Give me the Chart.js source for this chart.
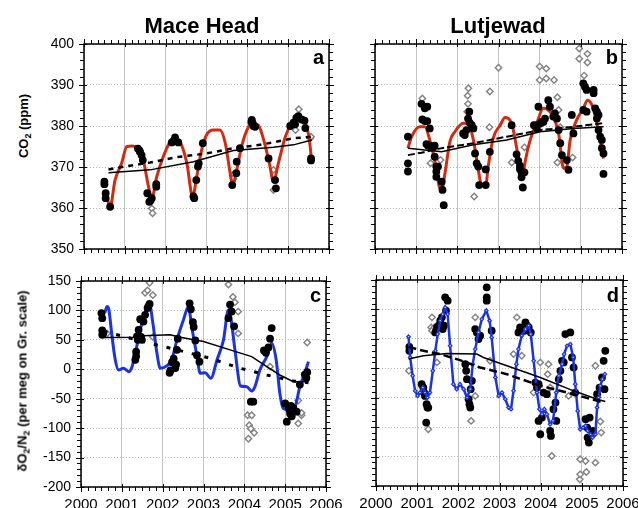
<!DOCTYPE html>
<html>
<head>
<meta charset="utf-8">
<script src="https://cdn.jsdelivr.net/npm/chart.js@4.4.1/dist/chart.umd.min.js"></script>
<style>
  body { margin: 0; background: #fff; font-family: Arial, "Liberation Sans", sans-serif; }
  #wrap { position: relative; width: 638px; height: 508px; overflow: hidden; }
  canvas { position: absolute; }
  .title { position: absolute; font-weight: bold; font-size: 22px; line-height: 26px; text-align: center; width: 200px; }
  .letter { position: absolute; font-weight: bold; font-size: 20px; line-height: 24px; text-align: right; width: 40px; }
  .ytitle { position: absolute; font-weight: bold; font-size: 13px; white-space: nowrap; transform: translate(-50%, -50%) rotate(-90deg); }
  .ytitle sub { font-size: 9px; vertical-align: -3px; line-height: 0; }
</style>
</head>
<body>
<div id="wrap">
  <canvas id="pa" width="301" height="221" style="left:34px;top:34px"></canvas>
  <canvas id="pb" width="279" height="221" style="left:349px;top:34px"></canvas>
  <canvas id="pc" width="315" height="237" style="left:31px;top:271px"></canvas>
  <canvas id="pd" width="293" height="238" style="left:350px;top:270px"></canvas>

  <div class="title" style="left:102px;top:13px">Mace Head</div>
  <div class="title" style="left:398px;top:13px">Lutjewad</div>
  <div class="letter" style="left:284px;top:45px">a</div>
  <div class="letter" style="left:578px;top:45px">b</div>
  <div class="letter" style="left:281px;top:283px">c</div>
  <div class="letter" style="left:579px;top:283px">d</div>
  <div class="ytitle" style="left:23px;top:126px">CO<sub>2</sub> (ppm)</div>
  <div class="ytitle" style="left:22px;top:381px">δO<sub>2</sub>/N<sub>2</sub> (per meg on Gr. scale)</div>
</div>
<script>
// tick labels
const yearTicks = [2000, 2001, 2002, 2003, 2004, 2005, 2006];
const co2Ticks = [350, 360, 370, 380, 390, 400];
const o2Ticks = [-200, -150, -100, -50, 0, 50, 100, 150];

// ---- Mace Head CO2 (panel a) ----  [decimal year, ppm]
const maceCo2Obs = [
  [2000.50,366.4],[2000.50,365.8],[2000.53,363.6],[2000.53,362.4],[2000.64,360.3],
  [2001.32,374.5],[2001.36,374.0],[2001.37,373.7],[2001.41,372.9],[2001.44,371.7],
  [2001.55,363.6],[2001.60,361.5],[2001.63,361.8],[2001.66,362.4],[2001.77,365.2],[2001.77,365.8],
  [2002.15,376.0],[2002.20,376.4],[2002.23,377.2],[2002.31,376.0],
  [2002.68,362.8],[2002.70,362.4],[2002.75,366.8],[2002.79,370.1],[2002.81,370.9],[2002.91,375.8],
  [2003.63,365.6],[2003.73,368.5],[2003.74,371.3],[2003.82,374.6],
  [2004.10,381.0],[2004.11,381.5],[2004.13,380.7],[2004.15,380.0],[2004.19,379.8],
  [2004.52,372.1],[2004.68,366.8],[2004.70,364.8],
  [2005.05,380.0],[2005.13,380.8],[2005.17,380.4],[2005.20,382.0],[2005.25,382.4],[2005.33,381.6],
  [2005.40,381.3],[2005.42,379.5],[2005.56,372.1],[2005.56,371.6]
];
const maceCo2Flag = [
  [2001.66,359.9],[2001.68,358.7],[2003.64,368.0],[2003.66,367.2],[2004.64,369.3],[2004.64,364.4],
  [2005.18,379.0],[2005.26,384.1],[2005.54,377.0],[2005.56,377.4]
];
const maceCo2Fit = [
  [2000.56,362.8],[2000.64,360.3],[2000.76,366.8],[2000.92,370.9],[2001.05,375.0],[2001.17,375.1],
  [2001.29,374.8],[2001.45,371.7],[2001.58,365.2],[2001.66,362.4],[2001.78,367.6],[2001.94,372.5],
  [2002.11,376.2],[2002.23,377.0],[2002.35,376.2],[2002.52,370.9],[2002.66,362.8],[2002.76,367.6],
  [2002.88,374.1],[2003.00,377.8],[2003.17,379.0],[2003.33,379.0],[2003.46,375.8],[2003.58,368.5],
  [2003.64,365.6],[2003.74,369.3],[2003.86,375.0],[2003.99,379.0],[2004.11,380.7],[2004.27,380.2],
  [2004.40,376.6],[2004.54,370.9],[2004.64,366.4],[2004.76,370.9],[2004.93,377.4],[2005.09,380.7],
  [2005.25,381.9],[2005.42,380.7],[2005.52,376.6],[2005.58,370.9]
];
const maceCo2Trend = [
  [2000.60,368.6],[2001.62,369.3],[2002.68,371.3],[2003.66,374.0],[2004.64,374.8],[2005.13,375.4],[2005.58,376.6]
];
const maceCo2Trend2 = [
  [2000.60,369.4],[2001.05,370.2],[2001.62,371.1],[2002.27,372.4],[2003.00,373.3],[2003.66,374.6],
  [2004.31,375.4],[2005.13,377.0],[2005.58,377.4]
];

// ---- Lutjewad CO2 (panel b) ----
const lutCo2Obs = [
  [2000.80,377.4],[2000.80,370.9],[2000.80,368.9],
  [2001.13,385.4],[2001.21,384.3],[2001.27,384.7],[2001.15,381.6],[2001.21,381.2],[2001.27,381.2],[2001.33,379.4],
  [2001.25,375.6],[2001.29,375.2],[2001.33,375.2],[2001.37,374.8],[2001.41,374.8],[2001.45,375.2],
  [2001.45,372.5],[2001.49,370.1],[2001.49,368.9],[2001.49,367.6],[2001.53,370.1],
  [2001.62,366.4],[2001.64,364.4],[2001.67,360.7],
  [2002.14,378.2],[2002.18,377.8],[2002.22,379.0],[2002.26,381.8],[2002.29,383.5],[2002.30,380.8],[2002.35,380.2],[2002.39,379.4],
  [2002.43,373.3],[2002.47,370.9],[2002.51,370.1],[2002.53,365.6],[2002.69,365.6],[2002.69,369.4],[2002.79,373.7],
  [2003.32,380.2],
  [2003.44,373.1],[2003.48,371.5],[2003.52,370.3],[2003.52,369.5],[2003.56,368.7],[2003.56,367.5],[2003.59,365.0],[2003.63,368.7],
  [2003.86,380.2],[2003.93,380.2],[2003.93,379.4],[2003.97,384.7],[2004.01,380.6],[2004.05,381.0],[2004.09,381.0],[2004.13,381.8],
  [2004.21,386.3],[2004.25,384.7],[2004.33,382.3],[2004.37,383.1],[2004.42,381.8],[2004.46,379.0],[2004.50,375.8],
  [2004.54,372.9],[2004.66,371.7],[2004.70,369.3],[2004.78,382.7],[2004.82,378.2],
  [2005.06,390.4],[2005.10,389.6],[2005.14,388.8],[2005.06,383.9],[2005.14,383.5],[2005.31,388.8],[2005.31,388.0],
  [2005.35,384.3],[2005.39,383.5],[2005.43,382.7],[2005.39,381.8],[2005.43,379.0],[2005.47,377.4],[2005.51,376.6],
  [2005.51,374.6],[2005.55,373.3],[2005.55,368.3]
];
const lutCo2Flag = [
  [2001.15,386.7],[2001.35,370.9],[2001.59,371.7],[2002.27,389.2],[2002.25,387.4],[2002.26,385.4],[2002.24,383.5],
  [2002.41,362.8],[2002.79,388.4],[2002.78,379.7],[2003.00,394.2],[2003.32,371.1],[2003.63,374.8],
  [2004.00,394.5],[2004.00,391.2],[2004.16,394.0],[2004.16,391.6],[2004.35,391.2],[2004.43,387.0],[2004.46,383.9],
  [2004.50,379.7],[2004.43,371.1],[2004.80,372.3],[2004.96,398.9],[2004.96,396.4],[2005.16,397.6],[2005.16,395.5],[2005.08,392.3]
];
const lutCo2Fit = [
  [2000.80,374.6],[2000.89,377.4],[2001.09,379.8],[2001.21,379.8],[2001.33,376.6],[2001.45,371.7],[2001.56,365.2],
  [2001.62,364.4],[2001.70,368.5],[2001.82,376.2],[2001.94,378.6],[2002.14,380.7],[2002.26,380.7],[2002.39,376.6],
  [2002.51,369.3],[2002.59,365.6],[2002.69,365.6],[2002.75,370.1],[2002.87,377.0],[2003.04,380.2],[2003.16,382.1],
  [2003.28,381.4],[2003.36,379.0],[2003.48,372.5],[2003.59,367.6],[2003.64,370.9],[2003.77,376.6],[2003.93,380.7],
  [2004.09,384.3],[2004.21,383.9],[2004.33,382.3],[2004.46,378.2],[2004.58,369.7],[2004.66,370.1],[2004.74,376.6],
  [2004.90,381.5],[2005.06,384.3],[2005.16,386.3],[2005.27,385.1],[2005.39,380.7],[2005.47,376.6],[2005.55,372.1]
];
const lutCo2Trend = [
  [2000.80,374.6],[2001.62,373.7],[2002.39,375.4],[2003.20,376.6],[2004.01,378.6],[2004.82,379.4],[2005.55,379.8]
];
const lutCo2Trend2 = [
  [2000.80,372.9],[2001.13,373.5],[2001.62,374.6],[2002.39,375.8],[2003.20,377.4],[2004.01,379.0],[2004.82,379.8],[2005.55,380.7]
];

// ---- Mace Head dO2/N2 (panel c) ----  [decimal year, per meg]
const maceO2Obs = [
  [2000.50,95.5],[2000.52,86.9],[2000.52,65.9],[2000.52,58.5],[2000.55,62],
  [2001.33,16],[2001.35,30],[2001.35,22],[2001.37,56],[2001.39,50],[2001.41,67],[2001.45,85],[2001.47,55],
  [2001.49,50],[2001.53,81],[2001.57,92.6],[2001.63,104],[2001.65,107],[2001.68,111],
  [2002.17,-6],[2002.19,-2],[2002.23,12],[2002.27,18],[2002.31,2],[2002.33,8],[2002.35,33],[2002.37,52],
  [2002.66,112],[2002.69,102],[2002.74,80],[2002.76,72],[2002.80,49],[2002.84,24],[2002.90,13],
  [2003.61,87],[2003.65,110],[2003.69,98],[2003.75,73],
  [2004.16,-55],[2004.22,-55],
  [2004.48,32],[2004.53,28],[2004.59,37],[2004.63,52],[2004.67,70],
  [2005.00,-58],[2005.04,-89],[2005.08,-64],[2005.10,-68],[2005.12,-75],[2005.14,-62],[2005.16,-80],
  [2005.20,-66],[2005.28,-72],[2005.36,-26],[2005.48,-9],[2005.52,-15],[2005.54,-5]
];
const maceO2Flag = [
  [2000.64,61],[2001.57,130],[2001.63,134],[2001.68,147],[2001.76,126],[2001.76,55],[2003.61,144],[2003.72,123],
  [2003.77,114],[2003.85,98],[2003.85,61],[2004.08,-78],[2004.18,-78],[2004.12,-95],[2004.16,-101],[2004.10,-118],
  [2004.24,-108],[2004.63,4.5],[2005.32,-53],[2005.40,-78],[2005.32,-92],[2005.40,-74],[2005.54,45.5]
];
const maceO2Fit = [
  [2000.58,95.5],[2000.64,106.8],[2000.68,102.3],[2000.76,55.7],[2000.84,15.9],[2000.92,-1.1],[2001.04,1.7],
  [2001.17,-4.0],[2001.25,4.5],[2001.33,27.3],[2001.45,67.0],[2001.57,95.5],[2001.68,109.7],[2001.76,78.4],
  [2001.86,27.3],[2001.94,1.7],[2002.10,5.7],[2002.22,15.9],[2002.35,50.0],[2002.51,84.1],[2002.63,106.8],
  [2002.71,72.7],[2002.84,21.6],[2002.92,-6.8],[2003.04,-5.7],[2003.18,-15.3],[2003.33,15.9],[2003.49,50.0],
  [2003.61,101.1],[2003.67,86.9],[2003.77,33.0],[2003.91,-28.4],[2004.06,-29.5],[2004.18,-36.9],[2004.26,-29.5],
  [2004.38,-1.1],[2004.55,21.6],[2004.67,44.3],[2004.78,15.9],[2004.87,-40.9],[2004.95,-66.5],[2005.04,-68.2],
  [2005.12,-68.2],[2005.24,-63.6],[2005.36,-29.5],[2005.48,-6.8],[2005.57,13.1]
];
const maceO2Trend = [
  [2000.55,54],[2001.37,54.5],[2001.53,56.8],[2002.18,58.5],[2002.43,54.5],[2003.00,47.2],[2003.65,33],
  [2004.18,21.6],[2004.55,4.5],[2004.87,-9.7],[2005.20,-21],[2005.57,-21]
];
const maceO2Trend2 = [
  [2000.55,64.2],[2001.00,56.8],[2001.61,45.5],[2002.35,33.0],[2003.16,18.8],[2003.90,1.7],[2004.55,-9.7],
  [2005.20,-19.9],[2005.57,-22.7]
];

// ---- Lutjewad dO2/N2 (panel d) ----
const lutO2Obs = [
  [2000.81,36.5],[2000.81,29.7],
  [2001.11,-27],[2001.15,-32.7],[2001.17,-41.2],[2001.19,-46.9],[2001.23,-61],[2001.25,-66.7],[2001.27,-66.7],[2001.22,-92.2],
  [2001.44,60.9],[2001.48,69.4],[2001.52,72.3],[2001.56,80.8],[2001.60,86.5],[2001.62,66.6],[2001.65,72.3],
  [2001.68,120.5],[2001.70,97.8],[2001.74,114.8],
  [2002.17,7],[2002.19,-4.3],[2002.21,-18.5],[2002.25,-52.5],[2002.27,-61],[2002.29,-66.7],[2002.30,-35.5],[2002.33,-21.3],
  [2002.41,66.6],[2002.45,60.9],[2002.49,49.6],[2002.53,55.3],[2002.69,137.5],[2002.69,120.5],[2002.69,114.8],[2002.81,63.8],
  [2003.46,60.9],[2003.50,69.4],[2003.54,63.8],[2003.60,63.8],[2003.63,78],[2003.67,72.3],[2003.71,69.4],[2003.76,60.9],
  [2003.87,-24.2],[2003.91,-32.7],[2003.95,-27],[2003.95,-89.4],[2003.99,-112.1],[2004.03,-83.7],[2004.07,-41.2],
  [2004.15,-44],[2004.23,-106.4],[2004.25,-114.9],[2004.31,-69.5],[2004.36,-58.2],[2004.38,-89.4],
  [2004.44,-18.5],[2004.48,-4.3],[2004.52,12.7],[2004.56,9.9],[2004.60,58.1],[2004.72,60.9],[2004.76,18.4],
  [2004.80,1.4],[2004.84,-41.2],
  [2005.09,-86.6],[2005.13,-100.7],[2005.14,-117.8],[2005.17,-126.3],[2005.19,-83.7],[2005.27,-106.4],
  [2005.37,-44],[2005.43,-32.7],[2005.49,-15.6],[2005.53,12.7],[2005.55,-35.5],[2005.57,29.7]
];
const lutO2Flag = [
  [2000.80,-4.3],[2001.36,86.5],[2001.34,69.5],[2001.36,63.8],[2001.42,69.5],[2001.48,10],[2001.27,-103.6],
  [2002.31,-89.4],[2002.41,86.5],[2002.41,-46.9],[2002.77,12.7],[2003.42,86.5],[2003.34,24.1],[2003.54,21.2],
  [2003.83,-41.2],[2003.99,10],[2004.19,7],[2004.17,-10],[2004.23,-32.7],[2004.27,-149],[2004.68,-46.9],
  [2004.96,-154.6],[2005.09,-157.5],[2004.95,-188.7],[2004.96,-180.2],[2005.11,-176.2],[2005.33,-160.3],
  [2005.33,4.2],[2005.45,-90.5],[2005.47,-109.3]
];
const lutO2Fit = [
  [2000.79,53.6],[2000.83,18.4],[2000.89,-12.8],[2000.95,-38.3],[2001.01,-46.9],[2001.07,-41.2],[2001.14,-32.7],
  [2001.19,-41.2],[2001.25,-49.7],[2001.31,-41.2],[2001.38,-4.3],[2001.44,29.7],[2001.50,58.1],[2001.56,80.8],
  [2001.62,92.1],[2001.68,103.5],[2001.74,92.1],[2001.80,38.2],[2001.88,-27],[2001.96,-35.5],[2002.04,-27],
  [2002.13,-35.5],[2002.21,-49.7],[2002.29,-35.5],[2002.35,7.0],[2002.41,32.6],[2002.49,60.9],[2002.57,83.6],
  [2002.68,97.8],[2002.76,80.8],[2002.81,52.4],[2002.90,-15.6],[2002.98,-46.9],[2003.06,-41.2],[2003.14,-52.5],
  [2003.22,-66.7],[2003.28,-69.5],[2003.34,-38.3],[2003.41,7.0],[2003.46,32.6],[2003.54,55.3],[2003.63,66.6],
  [2003.71,72.3],[2003.76,58.1],[2003.83,12.7],[2003.91,-41.2],[2003.97,-69.5],[2004.03,-78],[2004.09,-69.5],
  [2004.15,-78],[2004.23,-95.1],[2004.30,-89.4],[2004.38,-41.2],[2004.44,-12.8],[2004.52,7.0],[2004.57,24],
  [2004.64,38.2],[2004.72,41],[2004.79,18.4],[2004.84,-27],[2004.90,-72.4],[2004.96,-103.6],[2005.03,-100.7],
  [2005.09,-97.9],[2005.14,-106.4],[2005.21,-112.1],[2005.26,-117.8],[2005.33,-112.1],[2005.37,-66.7],
  [2005.41,-49.7],[2005.45,-29.8],[2005.50,-18.5],[2005.56,-10]
];
const lutO2Trend = [
  [2000.79,15.6],[2001.15,21.2],[2001.72,25.2],[2002.45,24.1],[2002.61,18.4],[2003.18,4.2],[2003.99,-15.6],
  [2004.80,-38.3],[2005.37,-52.5],[2005.57,-56.5]
];
const lutO2Trend2 = [
  [2000.79,36.5],[2001.07,30.9],[2001.56,24.1],[2002.04,13.8],[2002.53,1.4],[2003.18,-10],[2003.99,-29.8],
  [2004.80,-44],[2005.53,-58.2]
];

const FONT = 'Arial, "Liberation Sans", sans-serif';
const pts = arr => arr.map(([x, y]) => ({ x, y }));

// box with ticks on all four sides: majors cross the axis, minors point outward
const axisFrame = {
  id: 'axisFrame',
  afterDraw(chart) {
    const { ctx, chartArea: a, scales: { x, y } } = chart;
    const o = chart.options.plugins.axisFrame;
    ctx.save();
    ctx.strokeStyle = '#000';
    ctx.lineWidth = 1;
    ctx.beginPath();
    const nx = Math.round((x.max - x.min) * 6);
    for (let i = 0; i <= nx; i++) {
      const px = Math.round(x.getPixelForValue(x.min + i / 6)) + 0.5;
      const major = i % 6 === 0;
      const out = major ? 5 : 4, inn = major ? 3 : 0;
      ctx.moveTo(px, a.bottom - inn); ctx.lineTo(px, a.bottom + out);
      ctx.moveTo(px, a.top + inn); ctx.lineTo(px, a.top - out);
    }
    const ny = Math.round((y.max - y.min) / o.yMinor);
    for (let i = 0; i <= ny; i++) {
      const v = y.min + i * o.yMinor;
      const py = Math.round(y.getPixelForValue(v)) + 0.5;
      const major = Math.abs(((v - y.min) % o.yMajor)) < 1e-6;
      const out = major ? 5 : 4, inn = major ? 3 : 0;
      ctx.moveTo(a.left + inn, py); ctx.lineTo(a.left - out, py);
      ctx.moveTo(a.right - inn, py); ctx.lineTo(a.right + out, py);
    }
    ctx.stroke();
    ctx.lineWidth = 1.5;
    ctx.strokeRect(a.left, a.top, a.right - a.left, a.bottom - a.top);
    ctx.restore();
  }
};

function fixSize(size) {
  return scale => {
    scale.paddingLeft = scale.paddingRight = scale.paddingTop = scale.paddingBottom = 0;
    if (scale.isHorizontal()) scale.height = size; else scale.width = size;
  };
}

function panel(id, s) {
  const datasets = [
    { data: pts(s.flag), pointStyle: 'rectRot', pointRadius: 3.2, borderColor: '#808080',
      backgroundColor: '#fff', borderWidth: 1.4, order: 6 },
    { data: pts(s.fit), showLine: true, borderColor: s.fitColor, borderWidth: s.fitWidth,
      pointRadius: s.fitPoints ? 1.8 : 0, pointStyle: 'rectRot', pointBackgroundColor: '#c8d0ff',
      pointBorderColor: s.fitColor, pointBorderWidth: 1.2,
      cubicInterpolationMode: s.fitPoints ? 'default' : 'monotone', tension: 0, order: s.fitOrder },
    { data: pts(s.obs), pointRadius: 3.9, backgroundColor: '#000', borderColor: '#000', borderWidth: 0, order: 4 },
    { data: pts(s.trend), showLine: true, borderColor: '#000', borderWidth: 1.5, pointRadius: 0, order: 2 },
    { data: pts(s.trend2), showLine: true, borderColor: '#000', borderWidth: s.dashWidth,
      borderDash: s.dash, pointRadius: 0, order: 1 }
  ];
  return new Chart(document.getElementById(id), {
    type: 'scatter',
    data: { datasets },
    options: {
      responsive: false,
      animation: false,
      devicePixelRatio: 1,
      layout: { padding: s.pad },
      plugins: {
        legend: { display: false },
        tooltip: { enabled: false },
        axisFrame: { yMajor: s.yMajor, yMinor: s.yMinor }
      },
      scales: {
        x: {
          type: 'linear', min: yearTicks[0], max: yearTicks[yearTicks.length - 1],
          afterBuildTicks: sc => { sc.ticks = yearTicks.map(v => ({ value: v })); },
          afterFit: fixSize(s.xH),
          grid: { color: '#c4c4c4', lineWidth: 1, drawTicks: false },
          border: { display: false },
          ticks: { display: s.xLabels, padding: 9, color: '#000', font: { family: FONT, size: 15 },
                   maxRotation: 0, autoSkip: false, callback: v => String(v) }
        },
        y: {
          type: 'linear', min: s.yTicks[0], max: s.yTicks[s.yTicks.length - 1],
          afterBuildTicks: sc => { sc.ticks = s.yTicks.map(v => ({ value: v })); },
          afterFit: fixSize(s.yW),
          grid: { color: '#b4b4b4', lineWidth: 1, drawTicks: false },
          border: { display: false, dash: [1, 2] },
          ticks: { display: s.yLabels, padding: 10, color: '#000', font: { family: FONT, size: 14 },
                   autoSkip: false, callback: v => String(v) }
        }
      }
    },
    plugins: [axisFrame]
  });
}

const co2Axis = { yTicks: co2Ticks, yMajor: 10, yMinor: 2 };
const o2Axis = { yTicks: o2Ticks, yMajor: 50, yMinor: 10 };

panel('pa', { ...co2Axis, obs: maceCo2Obs, flag: maceCo2Flag, fit: maceCo2Fit, trend: maceCo2Trend, trend2: maceCo2Trend2,
  fitColor: '#d42a10', fitWidth: 3, fitOrder: 5, dash: [5, 5], dashWidth: 2.5,
  pad: { top: 10, right: 6, bottom: 0, left: 0 }, yW: 50, xH: 6, xLabels: false, yLabels: true });

panel('pb', { ...co2Axis, obs: lutCo2Obs, flag: lutCo2Flag, fit: lutCo2Fit, trend: lutCo2Trend, trend2: lutCo2Trend2,
  fitColor: '#d42a10', fitWidth: 3, fitOrder: 5, dash: [7, 3], dashWidth: 2,
  pad: { top: 10, right: 6, bottom: 0, left: 0 }, yW: 26, xH: 6, xLabels: false, yLabels: false });

panel('pc', { ...o2Axis, obs: maceO2Obs, flag: maceO2Flag, fit: maceO2Fit, trend: maceO2Trend, trend2: maceO2Trend2,
  fitColor: '#1c34e0', fitWidth: 3, fitOrder: 5, dash: [4, 9], dashWidth: 3,
  pad: { top: 10, right: 20, bottom: 0, left: 0 }, yW: 50, xH: 21, xLabels: true, yLabels: true });

panel('pd', { ...o2Axis, obs: lutO2Obs, flag: lutO2Flag, fit: lutO2Fit, trend: lutO2Trend, trend2: lutO2Trend2,
  fitColor: '#1c34e0', fitWidth: 2.5, fitOrder: 3, fitPoints: true, dash: [8, 4], dashWidth: 2.5,
  pad: { top: 10, right: 20, bottom: 0, left: 0 }, yW: 26, xH: 22, xLabels: true, yLabels: false });
</script>
</body>
</html>
